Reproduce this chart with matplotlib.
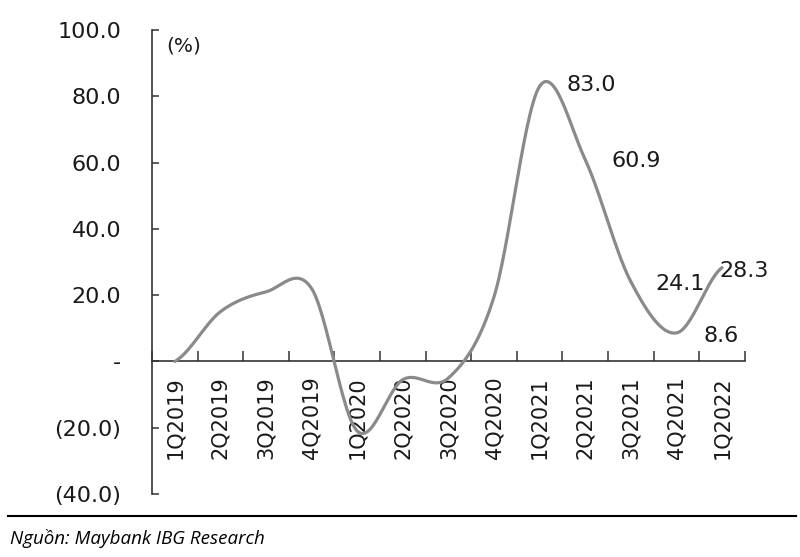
import matplotlib.pyplot as plt
import numpy as np

# %% Data
quarters = ['1Q2019', '2Q2019', '3Q2019', '4Q2019', '1Q2020', '2Q2020', '3Q2020',
            '4Q2020', '1Q2021', '2Q2021', '3Q2021', '4Q2021', '1Q2022']
growth = [0.0, 15.0, 21.0, 22.0, -21.0, -5.5, -5.0, 19.5, 83.0, 60.9, 24.1, 8.6, 28.3]

# only the last five quarters carry a value label
labelled = [8, 9, 10, 11, 12]
label_offsets = [(52, 1), (51, -1), (49, -2), (45, -3), (22, -3)]  # pixels

yticks = [-40, -20, 0, 20, 40, 60, 80, 100]
ytick_labels = ['(40.0)', '(20.0)', '-', '20.0', '40.0', '60.0', '80.0', '100.0']


# %% Smooth line like a spreadsheet chart (Catmull-Rom through the points)
def smooth(x, y, n=30):
    x = np.asarray(x, float)
    y = np.asarray(y, float)
    px = np.concatenate([[2 * x[0] - x[1]], x, [2 * x[-1] - x[-2]]])
    py = np.concatenate([[y[0]], y, [y[-1]]])
    xs, ys = [], []
    t = np.linspace(0, 1, n)
    for i in range(1, len(px) - 2):
        for p, out in ((px, xs), (py, ys)):
            p0, p1, p2, p3 = p[i - 1], p[i], p[i + 1], p[i + 2]
            out.append(0.5 * ((2 * p1) + (-p0 + p2) * t
                              + (2 * p0 - 5 * p1 + 4 * p2 - p3) * t ** 2
                              + (-p0 + 3 * p1 - 3 * p2 + p3) * t ** 3))
    return np.concatenate(xs), np.concatenate(ys)


# %% Plot
dark = '#333333'
fig = plt.figure(figsize=(8, 5.57), dpi=100)
ax = fig.add_axes([0.19, 0.1131, 0.741, 0.833])

x = np.arange(len(quarters))
sx, sy = smooth(x, growth)
ax.plot(sx, sy, color='#8a8a8a', lw=2.3, solid_capstyle='round', zorder=3)

for i, (dx, dy) in zip(labelled, label_offsets):
    ax.annotate(f'{growth[i]:.1f}', (x[i], growth[i]), xytext=(dx, dy),
                textcoords='offset pixels', ha='center', va='center',
                fontsize=16, color='#1a1a1a')

ax.set_xlim(-0.5, len(quarters) - 0.5)
ax.set_ylim(-40, 100)

for s in ['top', 'right']:
    ax.spines[s].set_visible(False)
ax.spines['bottom'].set_position(('data', 0))
ax.spines['bottom'].set_color(dark)
ax.spines['bottom'].set_linewidth(1.2)
ax.spines['left'].set_color(dark)
ax.spines['left'].set_linewidth(1.2)

ax.set_yticks(yticks)
ax.set_yticklabels(ytick_labels)
ax.tick_params(axis='y', direction='in', length=5, width=1.1, color=dark,
               pad=22, labelsize=16, labelcolor='#1a1a1a')

ax.set_xticks(x)
ax.set_xticklabels(quarters, rotation=90, va='top', ha='center')
ax.tick_params(axis='x', which='major', length=0, pad=11, labelsize=15,
               labelcolor='#1a1a1a')
ax.set_xticks(np.arange(len(quarters) + 1) - 0.5, minor=True)
ax.tick_params(axis='x', which='minor', direction='in', length=7, width=1.1,
               color=dark)

ax.text(0.024, 0.965, '(%)', transform=ax.transAxes, fontsize=14.5,
        color='#1a1a1a', va='center', ha='left')

# source line under the chart
fig.add_artist(plt.Line2D([0.01, 0.995], [1 - 516 / 557] * 2, color='black', lw=1.5))
fig.text(0.013, 1 - 538 / 557, 'Nguồn: Maybank IBG Research', fontsize=13.5,
         style='italic', family='Open Sans', va='center', ha='left', color='black')

fig.savefig('out.png', dpi=100)
